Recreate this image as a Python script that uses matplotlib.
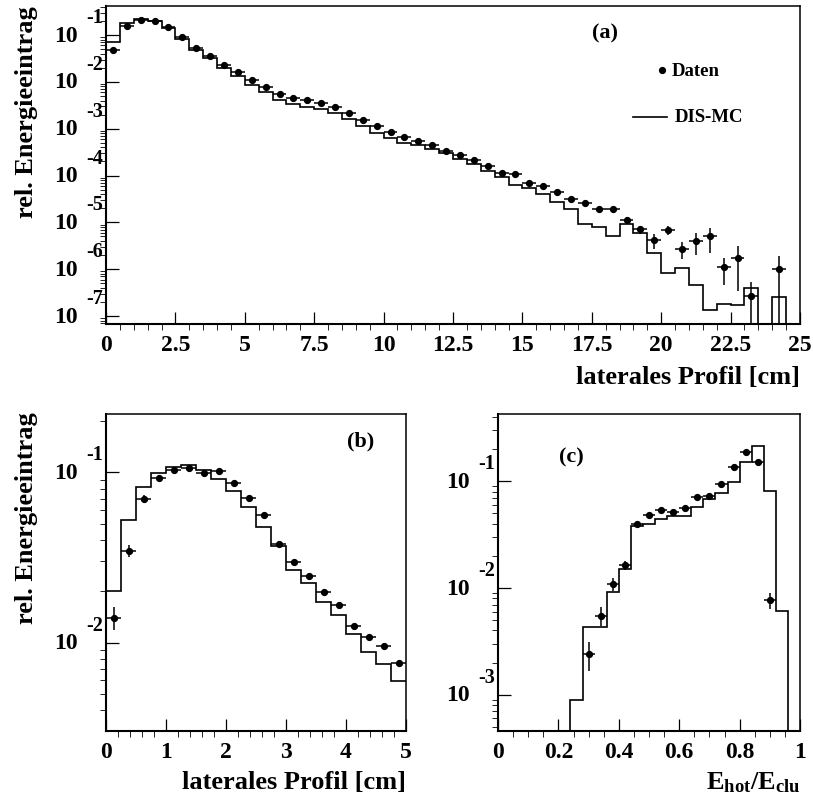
import matplotlib
matplotlib.use("Agg")
import matplotlib.pyplot as plt
import numpy as np
from matplotlib.ticker import MultipleLocator, LogLocator, NullFormatter, FuncFormatter
from matplotlib.transforms import offset_copy

plt.rcParams['font.family'] = ['Liberation Serif', 'DejaVu Serif']
plt.rcParams['font.weight'] = 'bold'
plt.rcParams['mathtext.fontset'] = 'custom'
plt.rcParams['mathtext.rm'] = 'Liberation Serif:bold'
plt.rcParams['mathtext.it'] = 'Liberation Serif:bold'
plt.rcParams['mathtext.bf'] = 'Liberation Serif:bold'

# ---- panel (a): lateral profile 0-25 cm, 0.5 cm bins
edges_a = np.arange(0, 25.01, 0.5)
daten_a = [4.90e-2, 1.58e-1, 2.09e-1, 2.00e-1, 1.51e-1, 9.1e-2, 5.4e-2, 3.55e-2, 2.29e-2, 1.66e-2,
           1.10e-2, 7.6e-3, 5.5e-3, 4.5e-3, 4.2e-3, 3.5e-3, 2.9e-3, 2.14e-3, 1.51e-3, 1.12e-3,
           8.5e-4, 6.8e-4, 5.4e-4, 4.4e-4, 3.4e-4, 2.75e-4, 2.14e-4, 1.62e-4, 1.12e-4, 1.07e-4,
           7.1e-5, 5.9e-5, 4.5e-5, 3.1e-5, 2.57e-5, 1.91e-5, 1.91e-5, 1.12e-5, 7.1e-6, 4.2e-6,
           6.9e-6, 2.7e-6, 4.0e-6, 5.0e-6, 1.10e-6, 1.70e-6, 2.7e-7, np.nan, 1.0e-6, np.nan]
relerr_a = [0.02] * 26 + [0.04, 0.04, 0.05, 0.05, 0.05, 0.05, 0.06, 0.07, 0.1, 0.1,
                          0.18, 0.15, 0.2, 0.35, 0.22, 0.4, 0.5, 0.55, 0.58, 0.8,
                          1.0, 0.0, 0.95, 0.0]
mc_a = [7.1e-2, 1.82e-1, 2.19e-1, 2.04e-1, 1.38e-1, 8.3e-2, 4.9e-2, 3.16e-2, 2.0e-2, 1.35e-2,
        8.7e-3, 6.0e-3, 4.2e-3, 3.4e-3, 2.95e-3, 2.69e-3, 2.19e-3, 1.58e-3, 1.12e-3, 7.9e-4,
        6.3e-4, 5.0e-4, 4.4e-4, 3.7e-4, 3.0e-4, 2.24e-4, 1.78e-4, 1.23e-4, 9.1e-5, 6.3e-5,
        5.4e-5, 4.0e-5, 2.69e-5, 1.91e-5, 9.1e-6, 7.9e-6, 5.1e-6, 9.1e-6, 6.0e-6, 2.24e-6,
        8.1e-7, 1.07e-6, 4.5e-7, 1.32e-7, 1.82e-7, 1.70e-7, 4.0e-7, 0.0, 2.57e-7, 0.0]

# ---- panel (b): lateral profile 0-5 cm, 0.25 cm bins
edges_b = np.arange(0, 5.001, 0.25)
daten_b = [1.40e-2, 3.46e-2, 6.97e-2, 9.31e-2, 1.035e-1, 1.057e-1, 9.95e-2, 1.014e-1, 8.61e-2, 7.06e-2,
           5.61e-2, 3.77e-2, 2.96e-2, 2.45e-2, 1.97e-2, 1.66e-2, 1.25e-2, 1.08e-2, 9.55e-3, 7.62e-3]
relerr_b = [0.15, 0.08, 0.05, 0.04] + [0.03] * 16
mc_b = [2.01e-2, 5.24e-2, 8.22e-2, 9.86e-2, 1.079e-1, 1.099e-1, 1.035e-1, 9.10e-2, 7.73e-2, 6.25e-2,
        4.76e-2, 3.70e-2, 2.66e-2, 2.23e-2, 1.74e-2, 1.46e-2, 1.12e-2, 8.85e-3, 7.52e-3, 5.94e-3]

# ---- panel (c): E_hot / E_clu, 0.04 bins
edges_c = np.arange(0, 1.0001, 0.04)
daten_c = [np.nan] * 7 + [2.40e-3, 5.50e-3, 1.09e-2, 1.64e-2, 3.98e-2, 4.83e-2, 5.38e-2, 5.12e-2,
                          5.66e-2, 7.13e-2, 7.23e-2, 9.51e-2, 1.36e-1, 1.89e-1, 1.51e-1, 7.67e-3] + [np.nan] * 2
relerr_c = [0.0] * 7 + [0.3, 0.2, 0.14, 0.1] + [0.04] * 11 + [0.17, 0.0, 0.0]
mc_c = [0, 0, 0, 0, 0, 0, 8.97e-4, 4.29e-3, 4.29e-3, 9.12e-3, 1.51e-2, 3.84e-2, 3.98e-2, 4.44e-2,
        4.70e-2, 4.76e-2, 5.74e-2, 6.82e-2, 7.71e-2, 9.91e-2, 1.51e-1, 2.13e-1, 8.17e-2, 6.05e-3, 0]

W, H = 813, 803
fig = plt.figure(figsize=(W / 100, H / 100), dpi=100)


def px_axes(l, t, r, b):
    return fig.add_axes([l / W, 1 - b / H, (r - l) / W, (b - t) / H])


def draw(ax, edges, daten, relerr, mc, ylim, xmajor, xminor, ymaj_len):
    edges = np.asarray(edges)
    centers = 0.5 * (edges[1:] + edges[:-1])
    half = 0.5 * (edges[1] - edges[0])
    daten = np.asarray(daten, dtype=float)
    ax.set_yscale('log', nonpositive='clip')
    ax.stairs(mc, edges, baseline=None, color='black', lw=1.2)
    ok = ~np.isnan(daten)
    ax.errorbar(centers[ok], daten[ok], xerr=half, yerr=(daten * np.asarray(relerr))[ok],
                fmt='o', color='black', ms=4.2, lw=1.1, capsize=0)
    ax.set_xlim(edges[0], edges[-1])
    ax.set_ylim(*ylim)
    ax.xaxis.set_major_locator(MultipleLocator(xmajor))
    ax.xaxis.set_minor_locator(MultipleLocator(xminor))
    ax.xaxis.set_major_formatter(FuncFormatter(lambda v, p: '%g' % v))
    ax.yaxis.set_major_locator(LogLocator(base=10, numticks=20))
    ax.yaxis.set_minor_locator(LogLocator(base=10, subs=np.arange(2, 10), numticks=20))
    ax.yaxis.set_major_formatter(NullFormatter())
    ax.yaxis.set_minor_formatter(NullFormatter())
    ax.tick_params(direction='in', top=False, right=False, labelsize=17, width=0.9)
    ax.tick_params(axis='x', which='major', length=8.6, pad=7)
    ax.tick_params(axis='x', which='minor', length=4.3)
    ax.tick_params(axis='y', which='major', length=ymaj_len)
    ax.tick_params(axis='y', which='minor', length=4.3)
    for s in ax.spines.values():
        s.set_linewidth(1.1)
    ax.spines['left'].set_linewidth(1.5)
    ax.spines['bottom'].set_linewidth(1.5)
    # ROOT-style "10" with exponent labels
    tr = ax.get_yaxis_transform()
    base_tr = offset_copy(tr, fig=fig, x=-28, y=0, units='dots')
    exp_tr = offset_copy(tr, fig=fig, x=-3, y=18, units='dots')
    lo, hi = np.log10(ylim[0]), np.log10(ylim[1])
    for n in range(int(np.ceil(lo)), int(np.floor(hi)) + 1):
        ax.text(0, 10.0 ** n, '10', transform=base_tr, ha='right', va='center',
                fontsize=17, fontweight='bold', clip_on=False)
        ax.text(0, 10.0 ** n, '%d' % n, transform=exp_tr, ha='right', va='center',
                fontsize=14.5, fontweight='bold', clip_on=False)


ax_a = px_axes(106, 7, 800, 325)
draw(ax_a, edges_a, daten_a, relerr_a, mc_a, (10 ** -7.17, 10 ** -0.38), 2.5, 0.5, 9.5)
ax_b = px_axes(106, 415, 406, 732)
draw(ax_b, edges_b, daten_b, relerr_b, mc_b, (10 ** -2.52, 10 ** -0.657), 1, 0.2, 9.5)
ax_c = px_axes(498, 415, 800, 732)
draw(ax_c, edges_c, daten_c, relerr_c, mc_c, (10 ** -3.34, 10 ** -0.369), 0.2, 0.05, 9.5)

# panel labels
fig.text(605 / W, 1 - 33 / H, '(a)', ha='center', va='center', fontsize=16, fontweight='bold')
fig.text(361 / W, 1 - 441 / H, '(b)', ha='center', va='center', fontsize=16, fontweight='bold')
fig.text(571 / W, 1 - 457 / H, '(c)', ha='center', va='center', fontsize=16, fontweight='bold')

# legend of panel (a)
fig.lines.append(plt.Line2D([662 / W], [1 - 71 / H], marker='o', ms=4.2, color='black',
                            transform=fig.transFigure))
fig.text(672 / W, 1 - 71 / H, 'Daten', ha='left', va='center', fontsize=13.5, fontweight='bold')
fig.lines.append(plt.Line2D([633 / W, 667 / W], [1 - 118 / H, 1 - 118 / H], color='black', lw=1.2,
                            transform=fig.transFigure))
fig.text(675 / W, 1 - 118 / H, 'DIS-MC', ha='left', va='center', fontsize=13.5, fontweight='bold')

# axis titles
fig.text(27 / W, 1 - 6 / H, 'rel. Energieeintrag', rotation=90, ha='center', va='top',
         fontsize=19, fontweight='bold')
fig.text(27 / W, 1 - 412 / H, 'rel. Energieeintrag', rotation=90, ha='center', va='top',
         fontsize=19, fontweight='bold')
fig.text(800 / W, 1 - 378 / H, 'laterales Profil [cm]', ha='right', va='center',
         fontsize=19, fontweight='bold')
fig.text(406 / W, 1 - 783 / H, 'laterales Profil [cm]', ha='right', va='center',
         fontsize=19, fontweight='bold')
fig.text(800 / W, 1 - 783 / H, r'$\mathbf{E_{hot}/E_{clu}}$', ha='right', va='center',
         fontsize=19)

fig.savefig('out.png', dpi=100)
